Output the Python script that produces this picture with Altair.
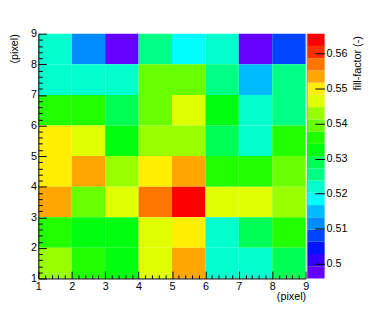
import altair as alt
import numpy as np
import pandas as pd

# ---- data: fill-factor per pixel; rows from top (y=8) to bottom (y=1), columns x=1..8
row_ids = [8, 7, 6, 5, 4, 3, 2, 1]
row8 = [0.5220, 0.5115, 0.4975, 0.5254, 0.5185, 0.5220, 0.4975, 0.5080]
row7 = [0.5220, 0.5220, 0.5220, 0.5394, 0.5394, 0.5254, 0.5150, 0.5254]
row6 = [0.5359, 0.5359, 0.5289, 0.5394, 0.5464, 0.5324, 0.5220, 0.5254]
row5 = [0.5499, 0.5464, 0.5324, 0.5429, 0.5429, 0.5289, 0.5220, 0.5359]
row4 = [0.5499, 0.5534, 0.5429, 0.5499, 0.5534, 0.5359, 0.5359, 0.5394]
row3 = [0.5534, 0.5394, 0.5464, 0.5569, 0.5638, 0.5464, 0.5464, 0.5429]
row2 = [0.5359, 0.5324, 0.5324, 0.5464, 0.5499, 0.5220, 0.5289, 0.5359]
row1 = [0.5429, 0.5359, 0.5324, 0.5464, 0.5534, 0.5220, 0.5220, 0.5289]
rows = [row8, row7, row6, row5, row4, row3, row2, row1]

z_min, z_max = 0.4958, 0.5656
n_levels = 20
palette = ["#6300ff", "#3300ff", "#0014ff", "#0044ff", "#008bff", "#00bbff",
           "#00fffc", "#00ffcc", "#00ff85", "#00ff55", "#00ff0e", "#22ff00",
           "#69ff00", "#99ff00", "#e0ff00", "#ffee00", "#ffa700", "#ff7700",
           "#ff3000", "#ff0000"]

x_major = [1, 2, 3, 4, 5, 6, 7, 8, 9]
y_major = [1, 2, 3, 4, 5, 6, 7, 8, 9]
minor_steps = [0.2, 0.4, 0.6, 0.8]
x_minor = [m + s for m in x_major[:-1] for s in minor_steps]
y_minor = [m + s for m in y_major[:-1] for s in minor_steps]
z_ticks = [0.50, 0.51, 0.52, 0.53, 0.54, 0.55, 0.56]

cells = []
for r, vals in zip(row_ids, rows):
    for c, v in enumerate(vals, start=1):
        cells.append({"x0": c, "x1": c + 1, "y0": r, "y1": r + 1, "ff": v})
df = pd.DataFrame(cells)

edges = np.linspace(z_min, z_max, n_levels + 1)
bands = pd.DataFrame({"lo": edges[:-1], "hi": edges[1:],
                      "mid": (edges[:-1] + edges[1:]) / 2, "c0": 0, "c1": 1})

# ---- layout
W, H = 273, 250
FONT = "Liberation Sans"

xs = alt.Scale(domain=[1, 9], nice=False, zero=False)
ys = alt.Scale(domain=[1, 9], nice=False, zero=False)
cscale = alt.Scale(type="quantize", domain=[z_min, z_max], range=palette,
                   nice=False, zero=False)

heat = alt.Chart(df).mark_rect().encode(
    x=alt.X("x0:Q", scale=xs, axis=alt.Axis(
        orient="bottom", values=x_major, ticks=False, tickSize=0, labelPadding=2,
        labelFlush=False, labelOverlap=False, format="d", domainColor="black",
        grid=False, zindex=1, title="(pixel)", titleAnchor="end", titleAlign="right",
        titleBaseline="middle", titleX=W, titleY=19)),
    x2="x1:Q",
    y=alt.Y("y0:Q", scale=ys, axis=alt.Axis(
        orient="left", values=y_major, ticks=False, tickSize=0, labelPadding=2,
        labelFlush=False, labelOverlap=False, format="d", domainColor="black",
        grid=False, zindex=1, title="(pixel)", titleAngle=270, titleAlign="right",
        titleBaseline="middle", titleX=-24, titleY=0)),
    y2="y1:Q",
    color=alt.Color("ff:Q", scale=cscale, legend=None),
)


def tick_layer(xvals, xsize, yvals, ysize):
    return alt.Chart(df).mark_rect(opacity=0).encode(
        x=alt.X("x0:Q", scale=xs, axis=alt.Axis(
            orient="bottom", values=xvals, tickSize=xsize, offset=-xsize,
            labels=False, domain=False, grid=False, title=None, zindex=2,
            tickColor="black")),
        x2="x1:Q",
        y=alt.Y("y0:Q", scale=ys, axis=alt.Axis(
            orient="left", values=yvals, tickSize=ysize, offset=-ysize,
            labels=False, domain=False, grid=False, title=None, zindex=2,
            tickColor="black")),
        y2="y1:Q",
    )


major = tick_layer(x_major, 7.5, y_major, 8.2)
minor = tick_layer(x_minor, 3.75, y_minor, 4.1)

# thin grey separator between the frame and the palette
sep = alt.Chart(df).mark_rect(opacity=0).encode(
    y=alt.Y("y0:Q", scale=ys, axis=alt.Axis(
        orient="right", offset=1, ticks=False, labels=False, grid=False,
        title=None, domainColor="#a0a0a0", domainWidth=1, zindex=2)),
    y2="y1:Q",
    x=alt.X("x0:Q", scale=xs, axis=None),
    x2="x1:Q",
)

cbar = alt.Chart(bands).mark_rect().encode(
    x=alt.X("c0:Q", scale=alt.Scale(domain=[0, 1], range=[274.4, 292.4]), axis=None),
    x2="c1:Q",
    y=alt.Y("lo:Q", scale=alt.Scale(domain=[z_min, z_max], nice=False, zero=False),
            axis=alt.Axis(orient="right", values=z_ticks, tickSize=10, offset=9.4,
                          labelPadding=1.5, format="~g", domain=False, grid=False,
                          tickColor="black", zindex=2, labelFlush=False,
                          labelOverlap=False, title="fill-factor (-)",
                          titleAngle=270, titleAlign="right", titleBaseline="middle",
                          titleX=44, titleY=2)),
    y2="hi:Q",
    color=alt.Color("mid:Q", scale=cscale, legend=None),
)

chart = (
    alt.layer(heat, major, minor, sep, cbar)
    .resolve_scale(x="independent", y="independent")
    .resolve_axis(x="independent", y="independent")
    .properties(width=W, height=H,
                autosize=alt.AutoSizeParams(type="none"),
                padding={"left": 31, "top": 23, "right": 78, "bottom": 31})
    .configure_view(stroke=None)
    .configure_axis(labelFont=FONT, titleFont=FONT, labelFontSize=11,
                    titleFontSize=11, labelColor="black", titleColor="black",
                    titleFontWeight="normal")
)

chart.save("out.html", embed_options={"renderer": "svg", "actions": False})
